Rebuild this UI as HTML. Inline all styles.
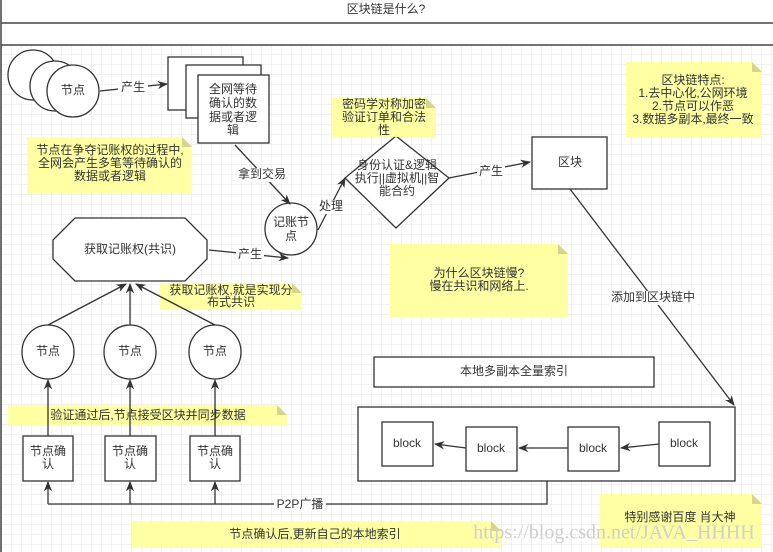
<!DOCTYPE html>
<html><head><meta charset="utf-8"><style>
html,body{margin:0;padding:0;background:#fff}
svg{display:block}
text{font-family:"Liberation Sans","Noto Sans CJK SC",sans-serif;font-size:12px;fill:#333;text-anchor:middle;dominant-baseline:middle}
</style></head><body>
<svg width="773" height="552" viewBox="0 0 773 552" xmlns="http://www.w3.org/2000/svg">
<defs>
<pattern id="g" width="10" height="10" patternUnits="userSpaceOnUse" x="2" y="5">
<path d="M10 0V10M0 10H10" stroke="#e6e6e6" stroke-width="1" fill="none"/>
</pattern>
<marker id="a" viewBox="0 0 10 10" refX="9" refY="5" markerWidth="8" markerHeight="8" orient="auto"><path d="M0 1L10 5L0 9L3 5Z" fill="#333"/></marker>
</defs>
<rect x="0" y="45" width="773" height="507" fill="url(#g)"/>
<rect x="1" y="0" width="771" height="45" fill="#fff"/>
<path d="M1 0V552M1 23H773M1 45H773" stroke="#444" stroke-width="1.5" fill="none"/>
<text x="386" y="10">区块链是什么?</text>

<g stroke="#333" stroke-width="1.3" fill="#fff">
<circle cx="33" cy="75" r="25"/><circle cx="55" cy="86" r="25"/><circle cx="73" cy="91" r="26"/>
<rect x="168" y="57" width="75" height="53"/><rect x="186" y="65" width="75" height="53"/><rect x="198" y="75" width="71" height="68"/>
<circle cx="291" cy="229" r="26"/>
<polygon points="75,218 185,218 207,240 207,259 185,281 75,281 53,259 53,240"/>
<polygon points="396,136 449,178 396,228 345,178"/>
<rect x="532" y="137" width="75" height="52"/>
<ellipse cx="48" cy="352" rx="26" ry="27"/><ellipse cx="130" cy="352" rx="26" ry="27"/><ellipse cx="215" cy="352" rx="26" ry="27"/>
<rect x="23" y="436" width="50" height="45"/><rect x="105" y="436" width="51" height="45"/><rect x="190" y="436" width="50" height="45"/>
<rect x="374" y="357" width="280" height="30"/>
<rect x="358" y="407" width="377" height="74"/>
<rect x="382" y="422" width="51" height="44"/><rect x="466" y="427" width="51" height="44"/><rect x="568" y="427" width="51" height="44"/><rect x="659" y="422" width="51" height="44"/>
</g>

<g fill="#ffff99" opacity="0.9">
<path d="M27 137H182L192 147V193H27Z"/>
<path d="M332 98H426L436 108V137H332Z"/>
<path d="M626 62H752L762 72V138H626Z"/>
<path d="M390 244H558L568 254V317H390Z"/>
<path d="M160 283H292L302 293V310H160Z"/>
<path d="M8 405H277L287 415V426H8Z"/>
<path d="M132 521H491L501 531V548H132Z"/>
<path d="M600 494H752L762 504V548H600Z"/>
</g>
<g fill="#d6d68a">
<path d="M182 137L192 147H182Z"/><path d="M426 98L436 108H426Z"/><path d="M752 62L762 72H752Z"/><path d="M558 244L568 254H558Z"/><path d="M292 283L302 293H292Z"/><path d="M277 405L287 415H277Z"/><path d="M491 521L501 531H491Z"/><path d="M752 494L762 504H752Z"/>
</g>

<g stroke="#333" stroke-width="1.3" fill="none" marker-end="url(#a)">
<path d="M100 91L167 84"/>
<path d="M235 145L290 204"/>
<path d="M209 250L288 258"/>
<path d="M318 230L345 178"/>
<path d="M449 178L530 162"/>
<path d="M570 189L734 405"/>
<path d="M48 325L126 284"/><path d="M130 325L130 284"/><path d="M215 325L136 284"/>
<path d="M48 436V380"/><path d="M130 436V380"/><path d="M215 436V380"/>
<path d="M466 448L435 444"/><path d="M568 448L519 448"/><path d="M659 444L621 448"/>
<path d="M48 504V482"/><path d="M130 504V482"/><path d="M215 504V482"/>
</g>
<path d="M547 481V504H48" stroke="#333" stroke-width="1.3" fill="none"/>

<g>
<rect x="118" y="82" width="30" height="13" fill="#fff"/><text x="133" y="88">产生</text>
<text x="73" y="91">节点</text>
<text x="233" y="90">全网等待</text><text x="233" y="104">确认的数</text><text x="233" y="118">据或者逻</text><text x="233" y="131">辑</text>
<text x="110" y="151">节点在争夺记账权的过程中,</text><text x="110" y="164">全网会产生多笔等待确认的</text><text x="110" y="177">数据或者逻辑</text>
<rect x="237" y="168" width="50" height="14" fill="#fff"/><text x="262" y="175">拿到交易</text>
<text x="291" y="223">记账节</text><text x="291" y="237">点</text>
<text x="130" y="250">获取记账权(共识)</text>
<rect x="236" y="248" width="28" height="14" fill="#fff"/><text x="250" y="255">产生</text>
<rect x="318" y="200" width="26" height="14" fill="#fff"/><text x="331" y="207">处理</text>
<text x="384" y="105">密码学对称加密</text><text x="384" y="118">验证订单和合法</text><text x="384" y="131">性</text>
<text x="397" y="166">身份认证&amp;逻辑</text><text x="397" y="179">执行||虚拟机||智</text><text x="397" y="192">能合约</text>
<rect x="477" y="165" width="28" height="14" fill="#fff"/><text x="491" y="172">产生</text>
<text x="570" y="163">区块</text>
<text x="693" y="81">区块链特点:</text><text x="693" y="94">1.去中心化,公网环境</text><text x="693" y="107">2.节点可以作恶</text><text x="693" y="120">3.数据多副本,最终一致</text>
<text x="479" y="274">为什么区块链慢?</text><text x="479" y="287">慢在共识和网络上.</text>
<rect x="609" y="291" width="88" height="14" fill="#fff"/><text x="653" y="298">添加到区块链中</text>
<text x="231" y="291">获取记账权,就是实现分</text><text x="231" y="303">布式共识</text>
<text x="48" y="352">节点</text><text x="130" y="352">节点</text><text x="215" y="352">节点</text>
<text x="148" y="416">验证通过后,节点接受区块并同步数据</text>
<text x="48" y="452">节点确</text><text x="48" y="465">认</text>
<text x="130" y="452">节点确</text><text x="130" y="465">认</text>
<text x="215" y="452">节点确</text><text x="215" y="465">认</text>
<text x="514" y="372">本地多副本全量索引</text>
<text x="407" y="444">block</text><text x="491" y="449">block</text><text x="593" y="449">block</text><text x="684" y="444">block</text>
<rect x="274" y="498" width="52" height="13" fill="#fff"/><text x="300" y="505">P2P广播</text>
<text x="315" y="535">节点确认后,更新自己的本地索引</text>
<text x="680" y="518">特别感谢百度 肖大神</text>
<text x="614" y="534" style="font-family:'Liberation Serif',serif;font-size:20px;fill:#cfcfcf">https://blog.csdn.net/JAVA_HHHH</text>
</g>
</svg>
</body></html>
